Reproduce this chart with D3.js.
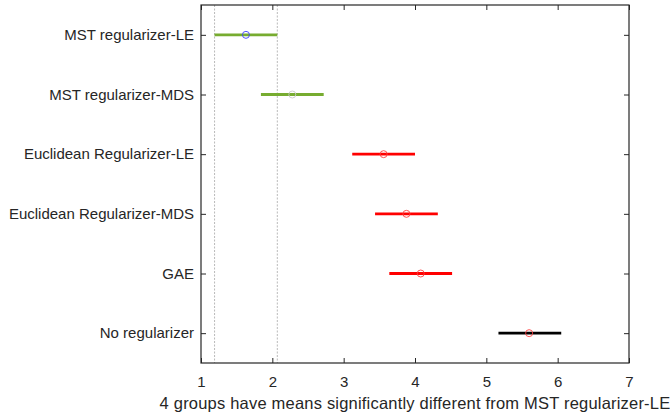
<!DOCTYPE html>
<html>
<head>
<meta charset="utf-8">
<script src="https://cdn.jsdelivr.net/npm/d3@7"></script>
<style>
  body { margin: 0; background: #fff; }
  text { font-family: "Liberation Sans", Arial, sans-serif; fill: #262626; }
</style>
</head>
<body>
<script>
  //group names, top to bottom
  var groups = ["MST regularizer-LE", "MST regularizer-MDS", "Euclidean Regularizer-LE", "Euclidean Regularizer-MDS", "GAE", "No regularizer"];
  //estimated group means and comparison interval bounds
  var means = [1.63, 2.28, 3.56, 3.88, 4.08, 5.60];
  var lower = [1.19, 1.84, 3.12, 3.44, 3.64, 5.17];
  var upper = [2.07, 2.72, 4.00, 4.32, 4.52, 6.05];
  var lineColors = ["#77ac30", "#77ac30", "#ff0000", "#ff0000", "#ff0000", "#000000"];
  var markColors = ["#4040ff", "#c8c8c8", "#ff4040", "#ff4040", "#ff4040", "#ff4040"];
  var xTicks = [1, 2, 3, 4, 5, 6, 7];
  var xLabel = "4 groups have means significantly different from MST regularizer-LE";

  var width = 670, height = 417;
  var margin = {left: 201, right: 41, top: 5, bottom: 54};
  var innerW = width - margin.left - margin.right,
      innerH = height - margin.top - margin.bottom;

  var svg = d3.select("body").append("svg")
    .attr("width", width)
    .attr("height", height);

  var g = svg.append("g")
    .attr("transform", "translate(" + margin.left + "," + margin.top + ")");

  var x = d3.scaleLinear().domain([1, 7]).range([0, innerW]);
  var y = d3.scaleLinear().domain([0.5, groups.length + 0.5]).range([0, innerH]);

  //reference lines at the selected group's interval
  g.selectAll(".ref")
    .data([lower[0], upper[0]])
    .enter().append("line")
    .attr("x1", function(d){ return x(d); })
    .attr("x2", function(d){ return x(d); })
    .attr("y1", 0).attr("y2", innerH)
    .attr("stroke", "#a8a8a8")
    .attr("stroke-width", 0.8)
    .attr("stroke-dasharray", "2,1.5");

  //interval bars
  g.selectAll(".bar")
    .data(groups)
    .enter().append("line")
    .attr("x1", function(d, i){ return x(lower[i]); })
    .attr("x2", function(d, i){ return x(upper[i]); })
    .attr("y1", function(d, i){ return y(i + 1); })
    .attr("y2", function(d, i){ return y(i + 1); })
    .attr("stroke", function(d, i){ return lineColors[i]; })
    .attr("stroke-width", 2.8);

  //mean markers
  g.selectAll(".mean")
    .data(groups)
    .enter().append("circle")
    .attr("cx", function(d, i){ return x(means[i]); })
    .attr("cy", function(d, i){ return y(i + 1); })
    .attr("r", 3.5)
    .attr("fill", "none")
    .attr("stroke", function(d, i){ return markColors[i]; })
    .attr("stroke-width", 0.9);

  //axes, ticks inward on all four sides
  var xAxis = d3.axisBottom(x).tickValues(xTicks).tickSize(-5).tickPadding(13).tickFormat(d3.format("d"));
  var xTop = d3.axisTop(x).tickValues(xTicks).tickSize(-5).tickFormat("");
  var yAxis = d3.axisLeft(y).tickValues(d3.range(1, groups.length + 1)).tickSize(-5).tickPadding(7)
    .tickFormat(function(d){ return groups[d - 1]; });
  var yRight = d3.axisRight(y).tickValues(d3.range(1, groups.length + 1)).tickSize(-5).tickFormat("");

  function styleAxis(sel){
    sel.select(".domain").attr("d", null);
    sel.selectAll(".tick line").attr("stroke", "#262626");
    sel.selectAll("text").style("font-size", "15px").attr("fill", "#262626");
  }

  g.append("g").attr("transform", "translate(0," + innerH + ")").call(xAxis).call(styleAxis);
  g.append("g").call(xTop).call(styleAxis);
  g.append("g").call(yAxis).call(styleAxis);
  g.append("g").attr("transform", "translate(" + innerW + ",0)").call(yRight).call(styleAxis);

  g.append("rect")
    .attr("width", innerW).attr("height", innerH)
    .attr("fill", "none").attr("stroke", "#262626").attr("stroke-width", 1.2);

  svg.append("text")
    .attr("x", margin.left + innerW / 2)
    .attr("y", 409)
    .attr("text-anchor", "middle")
    .style("font-size", "16.5px")
    .style("letter-spacing", "0.2px")
    .text(xLabel);
</script>
</body>
</html>
